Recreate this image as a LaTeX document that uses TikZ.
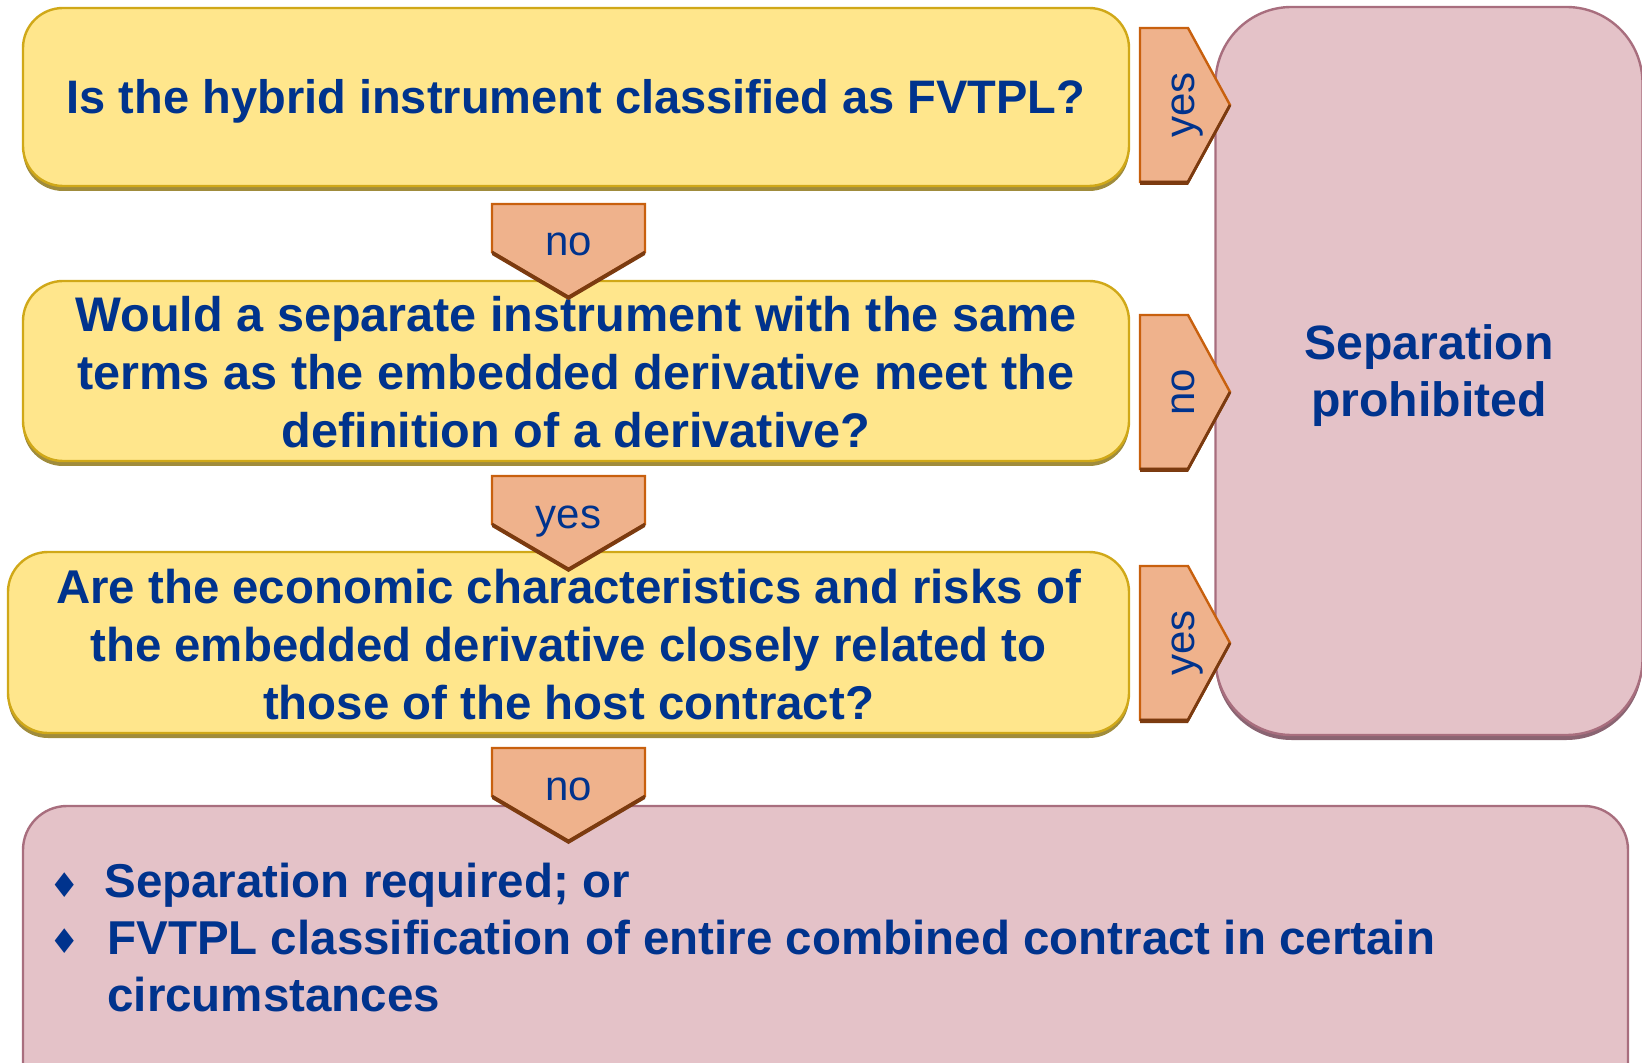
\documentclass[tikz,border=0pt]{standalone}
\usepackage{fontspec}
\setmainfont{Liberation Sans}
\newfontfamily\symfont{DejaVu Sans}
\definecolor{txtblue}{HTML}{00338D}
\definecolor{yfill}{HTML}{FFE68C}
\definecolor{yedge}{HTML}{D0A818}
\definecolor{yshadow}{HTML}{A08C3C}
\definecolor{pfill}{HTML}{E4C2C8}
\definecolor{pedge}{HTML}{A86E7E}
\definecolor{pshadow}{HTML}{8A6472}
\definecolor{afill}{HTML}{EFB28C}
\definecolor{aedge}{HTML}{C8600E}
\definecolor{ashadow}{HTML}{7A3A10}
\tikzset{
  qbox/.style={draw=yedge, line width=1.2pt, fill=yfill, rounded corners=20pt,
    preaction={fill=yshadow, transform canvas={yshift=-2.5pt}}, inner sep=0pt},
  pbox/.style={draw=pedge, line width=1.2pt, fill=pfill,
    preaction={fill=pshadow, transform canvas={yshift=-2.5pt}}, inner sep=0pt},
  qtxt/.style={text=txtblue, align=center, inner sep=0pt},
  blockarrow/.style={fill=afill, draw=aedge, line width=1.2pt, line join=miter,
    preaction={fill=ashadow, transform canvas={yshift=-1.5pt}}},
  tipedge/.style={draw=ashadow, line width=1.4pt, line join=miter},
  lab/.style={text=txtblue, font=\fontsize{21}{24}\selectfont, inner sep=0pt},
  btxt/.style={text=txtblue, font=\bfseries\fontsize{23.75}{29}\selectfont, inner sep=0pt},
  bul/.style={text=txtblue, font=\symfont\fontsize{17}{20}\selectfont, inner sep=0pt}
}
\begin{document}
\begin{tikzpicture}[x=0.5pt,y=-0.5pt]
\useasboundingbox (0,0) rectangle (1642,1063);
\clip (0,0) rectangle (1642,1063);
% boxes
\node[qbox, minimum width=553pt, minimum height=89pt] (q1) at (576,97) {};
\node[qbox, minimum width=553pt, minimum height=90pt] (q2) at (576,371) {};
\node[qbox, minimum width=560.5pt, minimum height=90.5pt] (q3) at (568.5,642.5) {};
\node[pbox, rounded corners=38pt, minimum width=213.5pt, minimum height=364pt] (sep) at (1429,371) {};
\node[pbox, rounded corners=22pt, minimum width=802.5pt, minimum height=152pt] (req) at (825.5,958) {};
% box texts
\node[qtxt, font=\bfseries\fontsize{23.5}{29}\selectfont] (t1) at (q1.center) [yshift=-2pt]
  {Is the hybrid instrument classified as FVTPL?};
\node[qtxt, font=\bfseries\fontsize{24.3}{29}\selectfont] (t2) at (q2.center) [yshift=-0.8pt]
  {Would a separate instrument with the same\\terms as the embedded derivative meet the\\definition of a derivative?};
\node[qtxt, font=\bfseries\fontsize{23.7}{29}\selectfont] (t3) at (q3.center) [yshift=-1pt]
  {Are the economic characteristics and risks of\\the embedded derivative closely related to\\those of the host contract?};
\node[qtxt, font=\bfseries\fontsize{24.1}{28.5}\selectfont] (t4) at (sep.center) [yshift=-2.5pt]
  {Separation\\prohibited};
% down arrows
\foreach \t/\lbl/\nm in {204/no/d1, 476/yes/d2, 748/no/d3}{
  \path[blockarrow] (492,\t) -- (645,\t) -- (645,\t+48) -- (568.5,\t+93) -- (492,\t+48) -- cycle;
  \path[tipedge] (645,\t+48) -- (568.5,\t+93) -- (492,\t+48);
  \node[lab, anchor=base] (\nm) at (568.5,\t+52) {\lbl};
}
% right arrows
\foreach \c/\lbl/\nm in {105/yes/r1, 392/no/r2, 643/yes/r3}{
  \path[blockarrow] (1140,\c-77) -- (1188,\c-77) -- (1230,\c) -- (1188,\c+77) -- (1140,\c+77) -- cycle;
  \path[tipedge] (1230,\c) -- (1188,\c+77) -- (1140,\c+77);
  \node[lab, anchor=base, rotate=90] (\nm) at (1194,\c) {\lbl};
}
% bottom text
\node[bul, anchor=base] (u1) at (65,897) {♦};
\node[btxt, anchor=base west] (b1) at (104,897) {Separation required; or};
\node[bul, anchor=base] (u2) at (65,953) {♦};
\node[btxt, anchor=base west] (b2) at (107,954) {FVTPL classification of entire combined contract in certain};
\node[btxt, anchor=base west] (b3) at (107,1011) {circumstances};
\end{tikzpicture}
\end{document}
